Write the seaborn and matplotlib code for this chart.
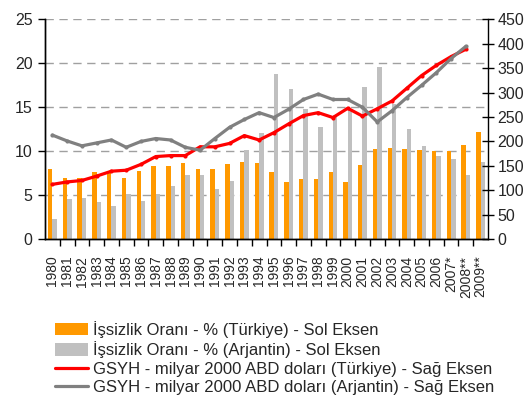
import numpy as np
import pandas as pd
import seaborn as sns
import matplotlib.pyplot as plt
from matplotlib.patches import Patch
from matplotlib.lines import Line2D

# data
years = ['1980', '1981', '1982', '1983', '1984', '1985', '1986', '1987', '1988', '1989',
         '1990', '1991', '1992', '1993', '1994', '1995', '1996', '1997', '1998', '1999',
         '2000', '2001', '2002', '2003', '2004', '2005', '2006', '2007*', '2008**', '2009**']
issizlik_tr = [8.0, 6.9, 6.9, 7.6, 7.7, 6.9, 7.7, 8.3, 8.3, 8.6,
               8.0, 8.0, 8.5, 8.8, 8.6, 7.6, 6.5, 6.8, 6.8, 7.6,
               6.5, 8.4, 10.3, 10.4, 10.3, 10.1, 10.0, 10.0, 10.7, 12.2]
issizlik_ar = [2.3, 4.6, 4.7, 4.2, 3.8, 5.1, 4.3, 5.1, 6.0, 7.3,
               7.3, 5.7, 6.6, 10.1, 12.1, 18.8, 17.1, 14.8, 12.8, 14.1,
               14.7, 17.3, 19.6, 15.4, 12.5, 10.6, 9.5, 9.1, 7.3, 8.8]
gsyh_tr = [112, 117, 120, 129, 139, 141, 153, 169, 171, 171,
           189, 189, 196, 212, 203, 218, 236, 253, 259, 249,
           268, 252, 267, 283, 309, 335, 356, 374, 389, np.nan]
gsyh_ar = [213, 201, 191, 197, 203, 188, 200, 206, 203, 188,
           182, 206, 229, 245, 259, 249, 266, 286, 297, 286,
           286, 270, 240, 263, 290, 315, 341, 370, 395, np.nan]

lbl_tr_bar = 'İşsizlik Oranı - % (Türkiye) - Sol Eksen'
lbl_ar_bar = 'İşsizlik Oranı - % (Arjantin) - Sol Eksen'
lbl_tr_line = 'GSYH - milyar 2000 ABD doları (Türkiye) - Sağ Eksen'
lbl_ar_line = 'GSYH - milyar 2000 ABD doları (Arjantin) - Sağ Eksen'

orange = '#FF9900'
lightgray = '#C0C0C0'
darkgray = '#808080'

sns.set_style('white')
plt.rcParams['font.family'] = ['Liberation Sans', 'DejaVu Sans']

df = pd.DataFrame({
    'yil': years * 2,
    'oran': issizlik_tr + issizlik_ar,
    'ulke': ['tr'] * len(years) + ['ar'] * len(years),
})

fig = plt.figure(figsize=(5.32, 4.01), dpi=100)
ax = fig.add_axes([45 / 532, 1 - 239 / 401, 443 / 532, 219.5 / 401])

sns.barplot(data=df, x='yil', y='oran', hue='ulke', hue_order=['tr', 'ar'],
            palette=[orange, lightgray], saturation=1, width=0.6, errorbar=None,
            linewidth=0, legend=False, ax=ax)
ax.set_ylim(0, 25)
ax.set_yticks(range(0, 26, 5))
ax.set_xlim(-0.5, len(years) - 0.5)
ax.set_xlabel('')
ax.set_ylabel('')
ax.set_axisbelow(True)
ax.yaxis.grid(True, color='#a0a0a0', linestyle=(0, (6, 4)), linewidth=1)

# ticks between categories on x
pos = np.arange(len(years))
ax.set_xticks(pos)
ax.set_xticklabels(years, rotation=90, fontsize=10, va='top')
ax.set_xticks(pos[:-1] + 0.5, minor=True)
ax.tick_params(axis='x', which='major', length=0, pad=12)
ax.tick_params(axis='x', which='minor', length=5, width=1, color='black', bottom=True)
ax.tick_params(axis='y', length=5, width=1, color='black', labelsize=11.5, left=True, pad=4)

ax2 = ax.twinx()
sns.lineplot(x=pos, y=gsyh_tr, ax=ax2, color='red', linewidth=2.3,
             marker='o', markersize=3, markeredgewidth=0)
sns.lineplot(x=pos, y=gsyh_ar, ax=ax2, color=darkgray, linewidth=2.3,
             marker='o', markersize=3, markeredgewidth=0)
ax2.set_ylim(0, 450)
ax2.set_yticks(range(0, 451, 50))
ax2.tick_params(axis='y', direction='inout', length=8, width=1, color='black',
                labelsize=11.5, right=True, pad=3)

for a in (ax, ax2):
    a.spines['top'].set_visible(False)
    for s in ('left', 'bottom', 'right'):
        a.spines[s].set_color('black')
        a.spines[s].set_linewidth(1)
ax.spines['right'].set_visible(False)

handles = [
    Patch(facecolor=orange, edgecolor='none'),
    Patch(facecolor=lightgray, edgecolor='none'),
    Line2D([], [], color='red', linewidth=2.3),
    Line2D([], [], color=darkgray, linewidth=2.3),
]
fig.legend(handles, [lbl_tr_bar, lbl_ar_bar, lbl_tr_line, lbl_ar_line],
           loc='upper left', bbox_to_anchor=(55 / 532, 1 - 321 / 401),
           frameon=False, fontsize=12, borderpad=0, borderaxespad=0,
           handlelength=2.0, handleheight=0.75, handletextpad=0.3,
           labelspacing=0.2)

fig.savefig('out.png', dpi=100)
